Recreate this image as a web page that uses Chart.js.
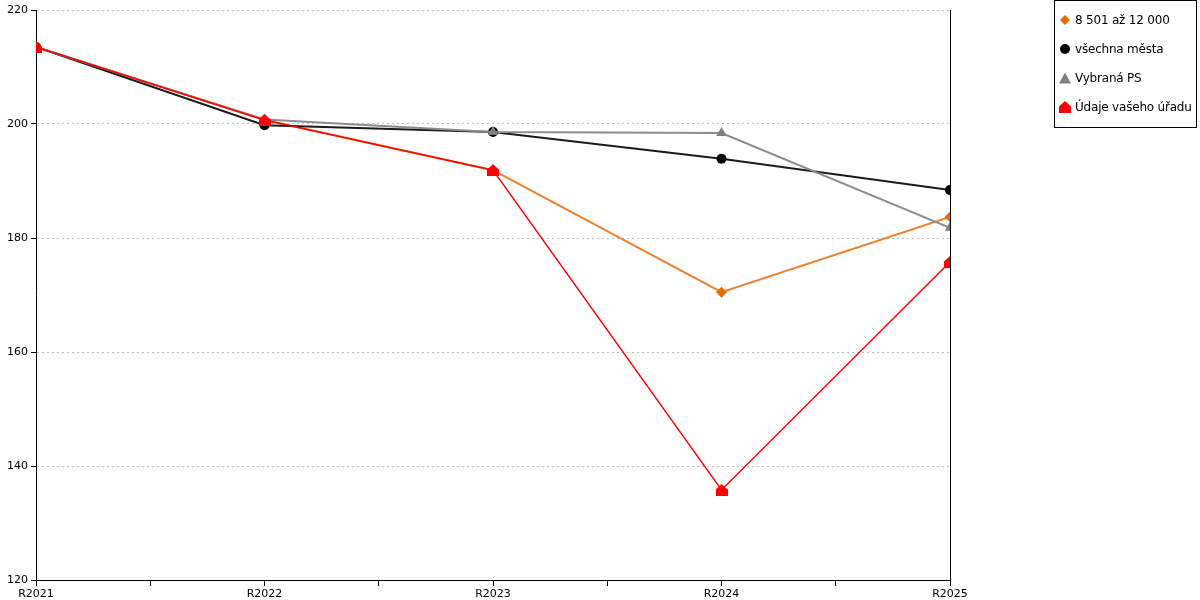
<!DOCTYPE html>
<html>
<head>
<meta charset="utf-8">
<script src="https://cdn.jsdelivr.net/npm/chart.js@4/dist/chart.umd.min.js"></script>
<style>
  body { margin: 0; background: #fff; font-family: "DejaVu Sans", sans-serif; }
  #wrap { position: relative; width: 1200px; height: 600px; }
  #legend { position: absolute; left: 1054px; top: 0; width: 141px; height: 126px; border: 1px solid #000; background: #fff; }
  .item { position: absolute; left: 4px; font-size: 12px; letter-spacing: -0.2px; color: #000; white-space: nowrap; line-height: 14px; }
  .item canvas { vertical-align: -2px; margin-right: 4px; }
</style>
</head>
<body>
<div id="wrap">
  <canvas id="graf" width="1200" height="600"></canvas>
  <div id="legend"></div>
</div>
<script>
// Data
const roky = ['R2021', 'R2022', 'R2023', 'R2024', 'R2025'];
const velikostniSkupina = [213.5, 200.7, 191.9, 170.5, 183.7];
const vsechnaMesta = [213.5, 199.8, 198.6, 193.9, 188.4];
const vybranaPS = [213.5, 200.8, 198.6, 198.4, 181.8];
const vasUrad = [213.5, 200.7, 191.9, 135.8, 175.8];
const yTicks = [120, 140, 160, 180, 200, 220];

// domecek (petiuhelnik) jako bod
function domecek(size, barva) {
    const c = document.createElement('canvas');
    c.width = size; c.height = size;
    const g = c.getContext('2d');
    g.fillStyle = barva;
    g.beginPath();
    g.moveTo(0, size * 0.45);
    g.lineTo(size / 2, 0);
    g.lineTo(size, size * 0.45);
    g.lineTo(size, size);
    g.lineTo(0, size);
    g.closePath();
    g.fill();
    return c;
}

const body = (arr) => arr.map((v, i) => ({ x: i, y: v }));

const datasets = [
    { label: 'Údaje vašeho úřadu', data: body(vasUrad), borderColor: '#ff0000', backgroundColor: '#ff0000',
      borderWidth: 1.5, pointStyle: domecek(12, '#ff0000'), pointRadius: 6, order: 0 },
    { label: 'Vybraná PS', data: body(vybranaPS), borderColor: '#8c8c8c', backgroundColor: '#808080',
      borderWidth: 2, pointStyle: 'triangle', pointRadius: 6, order: 1 },
    { label: 'všechna města', data: body(vsechnaMesta), borderColor: '#1a1a1a', backgroundColor: '#000000',
      borderWidth: 2, pointStyle: 'circle', pointRadius: 5, order: 2 },
    { label: '8 501 až 12 000', data: body(velikostniSkupina), borderColor: '#ee7f2d', backgroundColor: '#e36c0a',
      borderWidth: 2, pointStyle: 'rectRot', pointRadius: 5.5, order: 3 }
];
datasets.forEach(d => { d.tension = 0; d.pointBorderWidth = 0; d.pointHoverRadius = d.pointRadius; });

new Chart(document.getElementById('graf').getContext('2d'), {
    type: 'line',
    data: { datasets: datasets },
    options: {
        responsive: false,
        animation: false,
        layout: { padding: { left: 0, right: 250, top: 10, bottom: 0 } },
        plugins: { legend: { display: false }, tooltip: { enabled: false } },
        scales: {
            x: {
                type: 'linear', min: 0, max: roky.length - 1,
                afterBuildTicks: (s) => { s.ticks = []; for (let v = 0; v <= roky.length - 1; v += 0.5) s.ticks.push({ value: v }); },
                afterFit: (s) => { s.height = 20; },
                border: { color: '#000', width: 1 },
                grid: { drawOnChartArea: false, drawTicks: true, tickLength: 6, tickColor: '#000' },
                ticks: {
                    autoSkip: false, maxRotation: 0, padding: 2, color: '#000',
                    font: { family: 'DejaVu Sans', size: 11 },
                    callback: (v) => Number.isInteger(v) ? roky[v] : ''
                }
            },
            y: {
                min: 120, max: 220,
                afterBuildTicks: (s) => { s.ticks = yTicks.map(v => ({ value: v })); },
                afterFit: (s) => { s.width = 36; },
                border: { color: '#000', width: 1, dash: [2, 3] },
                grid: { color: '#bdbdbd', tickLength: 5, tickColor: '#000', tickBorderDash: [] },
                ticks: { color: '#000', padding: 3, font: { family: 'DejaVu Sans', size: 11 } }
            },
            y2: {
                position: 'right', min: 120, max: 220,
                afterFit: (s) => { s.width = 0; },
                border: { color: '#000', width: 1 },
                grid: { display: false },
                ticks: { display: false }
            }
        }
    }
});

// legenda
const legenda = document.getElementById('legend');
const polozky = [
    { text: '8 501 až 12 000', tvar: 'kosoctverec', barva: '#e36c0a' },
    { text: 'všechna města', tvar: 'kruh', barva: '#000000' },
    { text: 'Vybraná PS', tvar: 'trojuhelnik', barva: '#808080' },
    { text: 'Údaje vašeho úřadu', tvar: 'domecek', barva: '#ff0000' }
];
polozky.forEach((p, i) => {
    const div = document.createElement('div');
    div.className = 'item';
    div.style.top = (12 + i * 29) + 'px';
    const c = document.createElement('canvas');
    c.width = 12; c.height = 12;
    const g = c.getContext('2d');
    g.fillStyle = p.barva;
    g.beginPath();
    if (p.tvar === 'kosoctverec') { g.moveTo(6, 1); g.lineTo(11, 6); g.lineTo(6, 11); g.lineTo(1, 6); }
    else if (p.tvar === 'kruh') { g.arc(6, 6, 5, 0, Math.PI * 2); }
    else if (p.tvar === 'trojuhelnik') { g.moveTo(6, 0.5); g.lineTo(12, 11.5); g.lineTo(0, 11.5); }
    else { g.drawImage(domecek(12, p.barva), 0, 0); }
    g.closePath();
    g.fill();
    div.appendChild(c);
    div.appendChild(document.createTextNode(p.text));
    legenda.appendChild(div);
});
</script>
</body>
</html>
